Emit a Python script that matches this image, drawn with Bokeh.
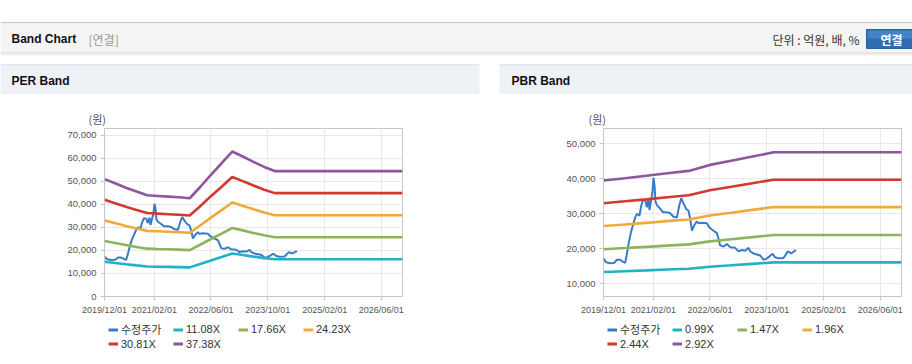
import numpy as np
import pandas as pd
from bokeh.plotting import figure
from bokeh.layouts import column, row
from bokeh.models import (Range1d, FixedTicker, DatetimeTickFormatter, NumeralTickFormatter,
                          Legend, LegendItem, Title)
from bokeh.core.properties import value
from bokeh.embed import file_html
from bokeh.resources import INLINE

# ---------------- data ----------------
price_dates = ["2019-12-01", "2019-12-24", "2020-01-27", "2020-03-02", "2020-03-25", "2020-04-22",
               "2020-05-21", "2020-06-04", "2020-06-19", "2020-07-03", "2020-07-23", "2020-08-09",
               "2020-08-29", "2020-09-13", "2020-10-05", "2020-10-17", "2020-11-03", "2020-11-23",
               "2020-12-07", "2020-12-21", "2020-12-30", "2021-01-24", "2021-02-02", "2021-02-11",
               "2021-02-19", "2021-03-03", "2021-03-31", "2021-04-24", "2021-05-28", "2021-06-25",
               "2021-07-24", "2021-08-22", "2021-09-11", "2021-09-28", "2021-10-17", "2021-11-10",
               "2021-11-29", "2021-12-14", "2021-12-29", "2022-01-17", "2022-02-09", "2022-02-23",
               "2022-03-27", "2022-05-06", "2022-05-26", "2022-07-02", "2022-07-31", "2022-08-14",
               "2022-08-28", "2022-09-26", "2022-10-25", "2022-11-22", "2023-01-04", "2023-02-01",
               "2023-03-03", "2023-03-31", "2023-04-29", "2023-05-13", "2023-06-10", "2023-07-09",
               "2023-08-07", "2023-09-04", "2023-09-25", "2023-10-23", "2023-11-20", "2023-12-13",
               "2024-01-11", "2024-02-23", "2024-03-31", "2024-04-29", "2024-06-08"]
price_values = [17300, 16200, 15900, 16000, 16900, 16900,
                16200, 16000, 18600, 21400, 24700, 26700,
                29000, 30000, 29500, 31900, 34000, 33800,
                31900, 34300, 31100, 36200, 40300, 38100,
                33500, 32500, 31500, 30500, 30500, 30200,
                29200, 29000, 32400, 34500, 33000, 31400,
                30900, 28600, 25200, 26700, 27900, 27300,
                27500, 27300, 26200, 25200, 24500, 22900,
                21000, 20700, 21400, 20500, 20300, 19300,
                19700, 19500, 20300, 19300, 18700, 18400,
                18100, 16900, 17100, 17800, 18600, 17600,
                17300, 17400, 19300, 18700, 19700]

# EPS behind the PER bands (won per share)
per_dates = ["2019-12-01", "2020-03-01", "2020-06-01", "2020-09-01", "2020-12-01", "2021-03-01",
             "2021-06-01", "2021-09-01", "2021-12-01", "2022-03-01", "2022-06-01", "2022-09-01",
             "2022-12-01", "2023-03-01", "2023-06-01", "2023-09-01", "2023-12-01", "2026-12-01"]
per_eps = [1364, 1316, 1265, 1220, 1177, 1169, 1161, 1153, 1142, 1273, 1415, 1549,
           1685, 1627, 1565, 1506, 1458, 1458]
per_multiples = [11.08, 17.66, 24.23, 30.81, 37.38]
per_labels = ["11.08X", "17.66X", "24.23X", "30.81X", "37.38X"]

# BPS behind the PBR bands (won per share)
pbr_dates = ["2019-12-01", "2020-06-01", "2020-12-01", "2021-06-01", "2021-12-01", "2022-06-01",
             "2022-12-01", "2023-06-01", "2023-12-01", "2026-12-01"]
pbr_bps = [13550, 13770, 14000, 14250, 14480, 15070, 15480, 15890, 16300, 16300]
pbr_multiples = [0.99, 1.47, 1.96, 2.44, 2.92]
pbr_labels = ["0.99X", "1.47X", "1.96X", "2.44X", "2.92X"]

price_label = "수정주가"
x_tick_dates = ["2019-12-01", "2021-02-01", "2022-06-01", "2023-10-01", "2025-02-01", "2026-06-01"]
x_start, x_end = "2019-12-01", "2026-12-01"
per_y_ticks = [0, 10000, 20000, 30000, 40000, 50000, 60000, 70000]
pbr_y_ticks = [10000, 20000, 30000, 40000, 50000]

# ---------------- styles ----------------
price_color = "#3a7bc8"
band_colors = ["#22b1c7", "#8db45b", "#f2a93b", "#d3392f", "#8e55a1"]
LAT = "Liberation Sans, Noto Sans CJK KR"
KR = "Noto Sans CJK KR"
FRAME = "#c6c6c6"


def ms(s):
    return int(np.datetime64(s, "ms").astype("int64"))


def deco_fig(w, h, y_top, y_bottom):
    f = figure(width=w, height=h, x_range=Range1d(0, w), y_range=Range1d(y_bottom, y_top),
               x_axis_location=None, y_axis_location=None, toolbar_location=None,
               output_backend="svg", min_border=0)
    f.outline_line_color = None
    f.grid.visible = False
    return f


def band(f, l, r, t, b, c):
    f.quad(left=[l], right=[r], top=[t], bottom=[b], fill_color=c, line_color=None)


# ---------------- header + panel title bands (page pixel coordinates) ----------------
hdr = deco_fig(912, 94, 0, 94)
band(hdr, 0, 912, 21.5, 22.6, "#c4c4c4")
band(hdr, 0, 912, 22.6, 52, "#f4f4f4")
band(hdr, 0, 912, 52, 53, "#d2d2d2")
band(hdr, 0, 912, 53, 54, "#e4e4e4")
band(hdr, 0, 912, 54, 55, "#f2f2f2")
hdr.text(x=[11], y=[38.5], text=["Band Chart"], text_font=value(LAT), text_font_size=value("12px"),
         text_font_style="bold", text_color="#111111", text_baseline="middle", text_align="left")
hdr.text(x=[88], y=[38.5], text=["[연결]"], text_font=value(KR), text_font_size=value("12px"),
         text_color="#9a9a9a", text_baseline="middle", text_align="left")
hdr.text(x=[859], y=[38.5], text=["단위 : 억원, 배, %"], text_font=value(KR), text_font_size=value("12px"),
         text_color="#333333", text_baseline="middle", text_align="right")
hdr.quad(left=[866], right=[916], top=[29], bottom=[48], fill_color="#2f6cb0", line_color="#2a62a2")
band(hdr, 867, 916, 30, 38, "#4384c8")
hdr.text(x=[891], y=[38.5], text=["연결"], text_font=value(KR), text_font_size=value("12px"),
         text_font_style="bold", text_color="#ffffff", text_baseline="middle", text_align="center")

for l, r, tx, lab in [(0, 479, 11, "PER Band"), (499, 912, 511, "PBR Band")]:
    band(hdr, l, r, 63.8, 65, "#d9dde2")
    band(hdr, l, r, 65, 94, "#eef2f7")
    hdr.text(x=[tx], y=[80], text=[lab], text_font=value(LAT), text_font_size=value("12px"),
             text_font_style="bold", text_color="#111111", text_baseline="middle", text_align="left")


# ---------------- band charts ----------------
def band_chart(w, border_left, border_right, y_range, y_ticks, dates, base, mults, unit_offset):
    p = figure(width=w, height=224, x_axis_type="datetime",
               x_range=Range1d(pd.Timestamp(x_start), pd.Timestamp(x_end)),
               y_range=Range1d(*y_range), toolbar_location=None, output_backend="svg",
               min_border_left=border_left, min_border_right=border_right,
               min_border_top=34, min_border_bottom=22)
    p.outline_line_color = FRAME
    p.background_fill_color = "#ffffff"
    p.border_fill_color = "#ffffff"

    p.xaxis.ticker = FixedTicker(ticks=[ms(d) for d in x_tick_dates])
    fmt = "%Y/%m/%d"
    p.xaxis.formatter = DatetimeTickFormatter(years=fmt, months=fmt, days=fmt, hours=fmt,
                                              hourmin=fmt, minutes=fmt, minsec=fmt, seconds=fmt,
                                              milliseconds=fmt, microseconds=fmt)
    p.yaxis.ticker = FixedTicker(ticks=y_ticks)
    p.yaxis.formatter = NumeralTickFormatter(format="0,0")
    for ax in (p.xaxis, p.yaxis):
        ax.axis_line_color = FRAME
        ax.major_tick_line_color = FRAME
        ax.major_tick_out = 4
        ax.major_tick_in = 0
        ax.minor_tick_out = 0
        ax.minor_tick_in = 0
        ax.major_label_text_color = "#555555"
        ax.major_label_text_font = "Liberation Sans"
        ax.major_label_standoff = 4
    p.xaxis.major_label_text_font_size = "9px"
    p.yaxis.major_label_text_font_size = "9.5px"
    p.xgrid.grid_line_color = "#e8e8e8"
    p.ygrid.grid_line_color = "#e8e8e8"

    p.add_layout(Title(text="(원)", align="left", offset=unit_offset, text_font_size="11px",
                       text_font_style="normal", text_color="#555555", text_font=KR, standoff=3),
                 "above")

    xd = pd.to_datetime(pd.Series(dates))
    p.line(x=pd.to_datetime(pd.Series(price_dates)), y=price_values,
           line_color=price_color, line_width=2)
    for m, col in zip(mults, band_colors):
        p.line(x=xd, y=[b * m for b in base], line_color=col, line_width=2.6)
    return p


per = band_chart(479, 104, 77, (0, 73000), per_y_ticks, per_dates, per_eps, per_multiples, -16)
pbr = band_chart(433, 124, 11, (6400, 54400), pbr_y_ticks, pbr_dates, pbr_bps, pbr_multiples, -15)

# ---------------- legends (strip below both charts; frame = whole strip) ----------------
leg = deco_fig(912, 45, 318, 363)
common = dict(orientation="horizontal", margin=0, padding=0, spacing=0, glyph_width=10,
              glyph_height=13, label_height=13, label_width=52, label_standoff=3,
              label_text_font_size="11px", label_text_font=LAT, label_text_color="#333333",
              border_line_color=None, background_fill_alpha=0)
NAN = [float("nan")]


def proxy(col):
    # legend-only proxy renderer: a single NaN point, so nothing is drawn in the strip itself
    return leg.line(x=NAN, y=NAN, line_color=col, line_width=3)


for x0, labels in [(108, per_labels), (607, pbr_labels)]:
    items = [LegendItem(label=price_label, renderers=[proxy(price_color)])]
    for lab, col in zip(labels, band_colors):
        items.append(LegendItem(label=lab, renderers=[proxy(col)]))
    leg.add_layout(Legend(items=items[:4], location=(x0, 25.8), **common))
    leg.add_layout(Legend(items=items[4:], location=(x0, 12.8), **common))

layout = column(hdr, row(per, pbr), leg)

open("out.html", "w").write(file_html(layout, INLINE))
